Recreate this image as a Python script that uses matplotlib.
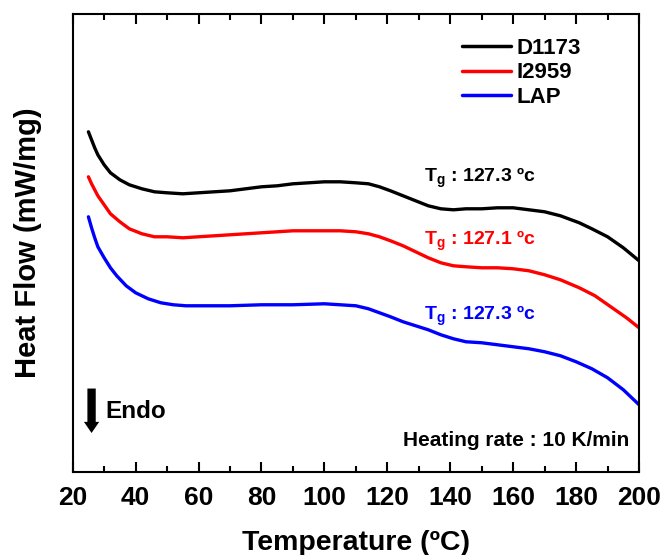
import matplotlib
matplotlib.use("Agg")
import matplotlib.pyplot as plt
from matplotlib.ticker import MultipleLocator

plt.rcParams['font.family'] = ['Liberation Sans', 'DejaVu Sans']
plt.rcParams['font.weight'] = 'bold'
plt.rcParams['mathtext.fontset'] = 'custom'
plt.rcParams['mathtext.rm'] = 'Liberation Sans:bold'
plt.rcParams['mathtext.it'] = 'Liberation Sans:bold'
plt.rcParams['mathtext.bf'] = 'Liberation Sans:bold'

# DSC curves (arbitrary heat flow units)
t_d1173 = [25, 26, 27, 28, 30, 32, 35, 38, 42, 46, 50, 55, 60, 65, 70, 75, 80, 85,
           90, 95, 100, 105, 110, 114, 117.5, 121, 125, 129, 133, 137, 141, 145,
           150, 155, 160, 165, 170, 175, 181, 185, 190, 195, 200]
hf_d1173 = [3.40, 3.32, 3.24, 3.17, 3.07, 2.99, 2.92, 2.87, 2.83, 2.80, 2.79, 2.78,
            2.79, 2.80, 2.81, 2.83, 2.85, 2.86, 2.88, 2.89, 2.90, 2.90, 2.89, 2.88,
            2.85, 2.81, 2.76, 2.71, 2.66, 2.63, 2.62, 2.63, 2.63, 2.64, 2.64, 2.62,
            2.60, 2.56, 2.49, 2.43, 2.35, 2.24, 2.11]

t_i2959 = [25, 26, 27, 28, 30, 32, 35, 38, 42, 46, 50, 55, 60, 65, 70, 75, 80, 85,
           90, 95, 100, 105, 110, 114, 117.5, 121, 125, 129, 133, 137, 141, 145,
           150, 155, 160, 165, 170, 175, 181, 186, 191, 196, 200]
hf_i2959 = [2.95, 2.88, 2.82, 2.76, 2.67, 2.58, 2.50, 2.43, 2.38, 2.35, 2.35, 2.34,
            2.35, 2.36, 2.37, 2.38, 2.39, 2.40, 2.41, 2.41, 2.41, 2.41, 2.40, 2.38,
            2.35, 2.31, 2.26, 2.20, 2.14, 2.09, 2.06, 2.05, 2.04, 2.04, 2.03, 2.01,
            1.97, 1.92, 1.84, 1.76, 1.65, 1.54, 1.44]

t_lap = [25, 26, 27, 28, 30, 32, 34, 37, 40, 44, 48, 52, 56, 60, 70, 80, 90, 100,
         105, 110, 114, 117.5, 121, 125, 129, 133, 137, 141, 145, 150, 155, 160,
         165, 170, 175, 180, 185, 190, 195, 200]
hf_lap = [2.55, 2.44, 2.34, 2.25, 2.14, 2.04, 1.96, 1.86, 1.79, 1.73, 1.69, 1.67,
          1.66, 1.66, 1.66, 1.67, 1.67, 1.68, 1.67, 1.66, 1.63, 1.59, 1.55, 1.50,
          1.46, 1.42, 1.37, 1.33, 1.30, 1.29, 1.27, 1.25, 1.23, 1.20, 1.16, 1.10,
          1.03, 0.94, 0.82, 0.67]

labels = ["D1173", "I2959", "LAP"]
colors = ["black", "red", "blue"]
tg_texts = ["127.3", "127.1", "127.3"]
tg_y = [2.94, 2.31, 1.56]

fig = plt.figure(figsize=(6.65, 5.55), dpi=100)
ax = fig.add_axes([0.1093, 0.150, 0.8517, 0.824])

curves = [(t_d1173, hf_d1173), (t_i2959, hf_i2959), (t_lap, hf_lap)]
for (t, hf), lab, c in zip(curves, labels, colors):
    ax.plot(t, hf, color=c, lw=2.4, label=lab, solid_joinstyle='round',
            solid_capstyle='round')

for txt, y, c in zip(tg_texts, tg_y, colors):
    ax.text(131.5, y, r"T$_\mathrm{g}$ : " + txt + " ºc", color=c, fontsize=14,
            fontweight='bold', va='center', ha='left')

ax.set_xlim(20, 200)
ax.set_ylim(0, 4.574)
ax.xaxis.set_major_locator(MultipleLocator(20))
ax.xaxis.set_minor_locator(MultipleLocator(10))
ax.tick_params(axis='x', which='both', direction='in', top=True, bottom=True,
               labelsize=19, width=1.5, pad=10)
ax.tick_params(axis='x', which='major', length=7)
ax.tick_params(axis='x', which='minor', length=4)
ax.set_yticks([])
for s in ax.spines.values():
    s.set_linewidth(1.5)

ax.set_xlabel("Temperature (ºC)", fontsize=20.5, fontweight='bold', labelpad=15)
ax.set_ylabel("Heat Flow (mW/mg)", fontsize=21, fontweight='bold', labelpad=22)

leg = ax.legend(loc='upper right', bbox_to_anchor=(0.933, 0.992), frameon=False,
                fontsize=16, handlelength=2.2, handletextpad=0.25, labelspacing=0.15)
for line in leg.get_lines():
    line.set_linewidth(2.5)

ax.annotate("", xy=(26.0, 0.36), xytext=(26.0, 0.86),
            arrowprops=dict(arrowstyle="simple,head_width=1.1,head_length=0.8,tail_width=0.6",
                            color="black", lw=0))
ax.text(30.5, 0.60, "Endo", fontsize=17.5, fontweight='bold', va='center', ha='left')
ax.text(0.983, 0.068, "Heating rate : 10 K/min", transform=ax.transAxes, fontsize=15,
        fontweight='bold', ha='right', va='center')

fig.savefig("out.png", dpi=100)
